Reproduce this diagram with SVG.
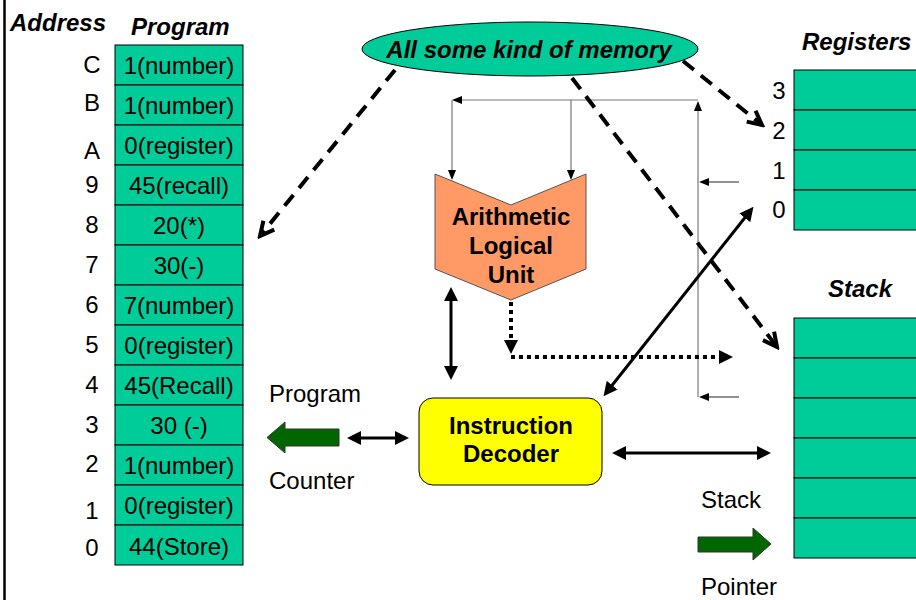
<svg xmlns="http://www.w3.org/2000/svg" width="916" height="600" viewBox="0 0 916 600">
<style>
text{font-family:"Liberation Sans",Arial,sans-serif;font-size:24px;fill:#000}
.bi{font-weight:bold;font-style:italic}
.b{font-weight:bold}
.m{text-anchor:middle}
.cell{fill:#00CC99;stroke:#000;stroke-width:1}
.thin{stroke:#777;stroke-width:1.2;fill:none}
.thinb{stroke:#222;stroke-width:1;fill:none}
.dash{stroke:#000;stroke-width:4;fill:none;stroke-dasharray:14 9}
.solid{stroke:#000;stroke-width:3;fill:none}
.dot{stroke:#000;stroke-width:4;fill:none;stroke-dasharray:4 4}
.green{fill:#006600;stroke:#333;stroke-width:1}
</style>
<defs>
<marker id="ah" viewBox="0 0 14 14" refX="10" refY="7" markerWidth="14" markerHeight="14" orient="auto-start-reverse" markerUnits="userSpaceOnUse"><path d="M0,0 L14,7 L0,14 z" fill="#000"/></marker>
<marker id="ahs" viewBox="0 0 10 8" refX="8" refY="4" markerWidth="10" markerHeight="8" orient="auto-start-reverse" markerUnits="userSpaceOnUse"><path d="M0,0 L10,4 L0,8 z" fill="#000"/></marker>
<marker id="av" viewBox="-2 -2 20 20" refX="15" refY="8" markerWidth="20" markerHeight="20" orient="auto" markerUnits="userSpaceOnUse"><path d="M1,1 L15,8 L1,15" fill="none" stroke="#000" stroke-width="4"/></marker>
</defs>
<line x1="4.5" y1="0" x2="4.5" y2="600" stroke="#000" stroke-width="2.5"/>
<g id="headers">
<text class="bi" x="10" y="31">Address</text>
<text class="bi" x="131" y="35">Program</text>
<text class="bi" x="802" y="50">Registers</text>
<text class="bi m" x="860" y="297">Stack</text>
</g>
<g id="program">
<rect class="cell" x="115" y="45" width="128" height="40"/>
<rect class="cell" x="115" y="85" width="128" height="40"/>
<rect class="cell" x="115" y="125" width="128" height="40"/>
<rect class="cell" x="115" y="165" width="128" height="40"/>
<rect class="cell" x="115" y="205" width="128" height="40"/>
<rect class="cell" x="115" y="245" width="128" height="40"/>
<rect class="cell" x="115" y="285" width="128" height="40"/>
<rect class="cell" x="115" y="325" width="128" height="40"/>
<rect class="cell" x="115" y="365" width="128" height="40"/>
<rect class="cell" x="115" y="405" width="128" height="40"/>
<rect class="cell" x="115" y="445" width="128" height="40"/>
<rect class="cell" x="115" y="485" width="128" height="40"/>
<rect class="cell" x="115" y="525" width="128" height="40"/>
<text class="m" x="179" y="74">1(number)</text>
<text class="m" x="179" y="114">1(number)</text>
<text class="m" x="179" y="154">0(register)</text>
<text class="m" x="179" y="194">45(recall)</text>
<text class="m" x="179" y="234">20(*)</text>
<text class="m" x="179" y="274">30(-)</text>
<text class="m" x="179" y="314">7(number)</text>
<text class="m" x="179" y="354">0(register)</text>
<text class="m" x="179" y="394">45(Recall)</text>
<text class="m" x="179" y="434">30 (-)</text>
<text class="m" x="179" y="474">1(number)</text>
<text class="m" x="179" y="514">0(register)</text>
<text class="m" x="179" y="555">44(Store)</text>
</g>
<g id="addresses">
<text class="m" x="92" y="73">C</text>
<text class="m" x="92" y="111">B</text>
<text class="m" x="92" y="159">A</text>
<text class="m" x="92" y="193">9</text>
<text class="m" x="92" y="233">8</text>
<text class="m" x="92" y="273">7</text>
<text class="m" x="92" y="313">6</text>
<text class="m" x="92" y="353">5</text>
<text class="m" x="92" y="393">4</text>
<text class="m" x="92" y="433">3</text>
<text class="m" x="92" y="472">2</text>
<text class="m" x="92" y="519">1</text>
<text class="m" x="92" y="556">0</text>
</g>
<g id="registers">
<rect class="cell" x="794" y="70" width="140" height="40"/>
<rect class="cell" x="794" y="110" width="140" height="40"/>
<rect class="cell" x="794" y="150" width="140" height="40"/>
<rect class="cell" x="794" y="190" width="140" height="40"/>
<text class="m" x="779" y="99">3</text>
<text class="m" x="779" y="139">2</text>
<text class="m" x="779" y="179">1</text>
<text class="m" x="779" y="218">0</text>
</g>
<g id="stack">
<rect class="cell" x="794" y="318" width="140" height="40"/>
<rect class="cell" x="794" y="358" width="140" height="40"/>
<rect class="cell" x="794" y="398" width="140" height="40"/>
<rect class="cell" x="794" y="438" width="140" height="40"/>
<rect class="cell" x="794" y="478" width="140" height="40"/>
<rect class="cell" x="794" y="518" width="140" height="40"/>
</g>
<g id="memory">
<ellipse cx="530" cy="49" rx="168" ry="27" fill="#00CC99" stroke="#000" stroke-width="1"/>
<text class="bi m" x="529" y="58">All some kind of memory</text>
</g>
<g id="alu">
<polygon points="435,174 511,205 586,174 586,269 511,300 435,269" fill="#FF9966" stroke="#555" stroke-width="1"/>
<text class="b m" x="511" y="225">Arithmetic</text>
<text class="b m" x="511" y="254">Logical</text>
<text class="b m" x="511" y="283">Unit</text>
</g>
<g id="decoder">
<rect x="419" y="398" width="183" height="87" rx="14" ry="14" fill="#FFFF00" stroke="#000" stroke-width="1"/>
<text class="b m" x="511" y="434">Instruction</text>
<text class="b m" x="511" y="462">Decoder</text>
</g>
<g id="program-counter">
<polygon class="green" points="267,437.5 285,422 285,429 339,429 339,446 285,446 285,453"/>
<text x="269" y="402">Program</text>
<text x="269" y="489">Counter</text>
</g>
<g id="stack-pointer">
<polygon class="green" points="698,537 753,537 753,528 771,544 753,560 753,552 698,552"/>
<text x="701" y="508">Stack</text>
<text x="701" y="595">Pointer</text>
</g>
<g id="connectors">
<line class="thin" x1="698" y1="100" x2="454" y2="100" marker-end="url(#ahs)"/>
<line class="thin" x1="452" y1="100" x2="452" y2="178" marker-end="url(#ahs)"/>
<line class="thin" x1="571" y1="100" x2="571" y2="178" marker-end="url(#ahs)"/>
<line class="thin" x1="698" y1="397" x2="698" y2="103" marker-end="url(#ahs)"/>
<line class="thinb" x1="739" y1="182" x2="701" y2="182" marker-end="url(#ahs)"/>
<line class="thinb" x1="739" y1="397" x2="701" y2="397" marker-end="url(#ahs)"/>
<line class="dash" x1="395" y1="70" x2="260" y2="236" marker-end="url(#av)"/>
<line class="dash" x1="572" y1="78" x2="777" y2="347" marker-end="url(#av)"/>
<line class="dash" x1="683" y1="61" x2="762" y2="125" marker-end="url(#av)"/>
<line class="solid" x1="451" y1="291" x2="451" y2="376" marker-start="url(#ah)" marker-end="url(#ah)"/>
<line class="solid" x1="606" y1="393" x2="751" y2="210" marker-start="url(#ah)" marker-end="url(#ah)"/>
<line class="solid" x1="351" y1="438" x2="405" y2="438" marker-start="url(#ah)" marker-end="url(#ah)"/>
<line class="solid" x1="616" y1="453" x2="767" y2="453" marker-start="url(#ah)" marker-end="url(#ah)"/>
<polyline class="dot" points="511,302 511,350" marker-end="url(#ah)"/>
<polyline class="dot" points="511,357 729,357" marker-end="url(#ah)"/>
</g>
</svg>
